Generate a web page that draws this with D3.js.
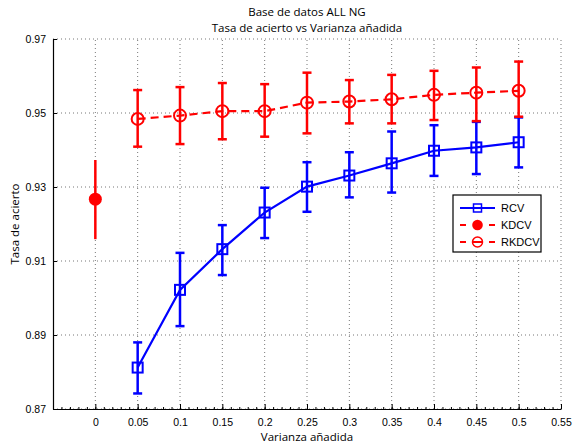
<!DOCTYPE html>
<meta charset="utf-8">
<script src="https://d3js.org/d3.v7.min.js"></script>
<style>
  body { margin: 0; background: #fff; }
  .tick text { font: 10.5px "Liberation Sans", Arial, sans-serif; fill: #000; }
  .ttl { font: 11.5px "Open Sans", "DejaVu Sans", sans-serif; fill: #000; }
  .grid line { stroke: #777; stroke-dasharray: 1,3; }
</style>
<body>
<div id="chart"></div>
<script>
// values
const xTicks = [0, 0.05, 0.1, 0.15, 0.2, 0.25, 0.3, 0.35, 0.4, 0.45, 0.5, 0.55];
const yTicks = [0.87, 0.89, 0.91, 0.93, 0.95, 0.97];

const varianza = [0.05, 0.1, 0.15, 0.2, 0.25, 0.3, 0.35, 0.4, 0.45, 0.5];

const rcv   = [0.8812, 0.9022, 0.9132, 0.9231, 0.9301, 0.9331, 0.9364, 0.9398, 0.9407, 0.9421];
const rcvLo = [0.8742, 0.8924, 0.9062, 0.9162, 0.9233, 0.9272, 0.9285, 0.9330, 0.9335, 0.9353];
const rcvHi = [0.8880, 0.9122, 0.9197, 0.9298, 0.9367, 0.9394, 0.9450, 0.9467, 0.9476, 0.9488];

const rkdcv   = [0.9484, 0.9493, 0.9505, 0.9505, 0.9528, 0.9531, 0.9537, 0.9549, 0.9555, 0.9560];
const rkdcvLo = [0.9409, 0.9416, 0.9429, 0.9436, 0.9445, 0.9472, 0.9472, 0.9481, 0.9478, 0.9490];
const rkdcvHi = [0.9562, 0.9570, 0.9581, 0.9578, 0.9609, 0.9589, 0.9603, 0.9614, 0.9623, 0.9639];

const kdcvX  = [0];
const kdcv   = [0.9267];
const kdcvLo = [0.9159];
const kdcvHi = [0.9373];

const width = 573, height = 446;
const svg = d3.select("#chart").append("svg")
  .attr("width", width).attr("height", height);

const x = d3.scaleLinear().domain([-0.05, 0.55]).range([53, 561]);
const y = d3.scaleLinear().domain([0.87, 0.97]).range([409, 39]);

// grid
const grid = svg.append("g").attr("class", "grid");
grid.selectAll("line.v").data(xTicks).enter().append("line")
  .attr("x1", d => x(d)).attr("x2", d => x(d))
  .attr("y1", y(0.87)).attr("y2", y(0.97));
grid.selectAll("line.h").data(yTicks).enter().append("line")
  .attr("x1", x(-0.05)).attr("x2", x(0.55))
  .attr("y1", d => y(d)).attr("y2", d => y(d));

// axes (ticks inside, like matlab)
svg.append("g").attr("transform", `translate(0,${y(0.87)})`)
  .call(d3.axisBottom(x).tickValues(xTicks).tickSize(-5).tickPadding(10)
    .tickFormat(d3.format("~g")).tickSizeOuter(0));
svg.append("g").attr("transform", `translate(0,${y(0.87)})`)
  .call(d3.axisBottom(x).tickValues(d3.range(-0.05, 0.551, 0.01)).tickSize(-2)
    .tickFormat("").tickSizeOuter(0))
  .select(".domain").remove();
svg.append("g").attr("transform", `translate(${x(-0.05)},0)`)
  .call(d3.axisLeft(y).tickValues(yTicks).tickSize(-4).tickPadding(7)
    .tickFormat(d3.format(".2f")).tickSizeOuter(0));
svg.selectAll(".domain").attr("stroke", "#000").attr("stroke-width", 1.2);
svg.selectAll(".tick line").attr("stroke", "#000");

// error bars
function errorBars(xs, ys, lo, hi, color, cap) {
  const g = svg.append("g").attr("stroke", color).attr("stroke-width", 2.5).attr("fill", "none");
  xs.forEach((xv, i) => {
    g.append("line").attr("x1", x(xv)).attr("x2", x(xv))
      .attr("y1", y(lo[i])).attr("y2", y(hi[i]));
    if (cap > 0) {
      g.append("line").attr("x1", x(xv) - cap).attr("x2", x(xv) + cap)
        .attr("y1", y(lo[i])).attr("y2", y(lo[i]));
      g.append("line").attr("x1", x(xv) - cap).attr("x2", x(xv) + cap)
        .attr("y1", y(hi[i])).attr("y2", y(hi[i]));
    }
  });
}

const line = d3.line().x(d => x(d[0])).y(d => y(d[1]));

// RCV
errorBars(varianza, rcv, rcvLo, rcvHi, "#0000ff", 4.5);
svg.append("path").datum(varianza.map((v, i) => [v, rcv[i]]))
  .attr("d", line).attr("fill", "none").attr("stroke", "#0000ff").attr("stroke-width", 2.2);
svg.append("g").selectAll("rect").data(varianza).enter().append("rect")
  .attr("x", (d) => x(d) - 5).attr("y", (d, i) => y(rcv[i]) - 5)
  .attr("width", 10).attr("height", 10)
  .attr("fill", "none").attr("stroke", "#0000ff").attr("stroke-width", 2);

// RKDCV
errorBars(varianza, rkdcv, rkdcvLo, rkdcvHi, "#ff0000", 4.5);
svg.append("path").datum(varianza.map((v, i) => [v, rkdcv[i]]))
  .attr("d", line).attr("fill", "none").attr("stroke", "#ff0000")
  .attr("stroke-width", 2.2).attr("stroke-dasharray", "8,5");
svg.append("g").selectAll("circle").data(varianza).enter().append("circle")
  .attr("cx", d => x(d)).attr("cy", (d, i) => y(rkdcv[i])).attr("r", 6)
  .attr("fill", "none").attr("stroke", "#ff0000").attr("stroke-width", 2);

// KDCV
errorBars(kdcvX, kdcv, kdcvLo, kdcvHi, "#ff0000", 0);
svg.append("g").selectAll("circle").data(kdcvX).enter().append("circle")
  .attr("cx", d => x(d)).attr("cy", (d, i) => y(kdcv[i])).attr("r", 6.5)
  .attr("fill", "#ff0000");

// titles
svg.append("text").attr("class", "ttl").attr("x", 307).attr("y", 16)
  .attr("text-anchor", "middle").text("Base de datos ALL NG");
svg.append("text").attr("class", "ttl").attr("x", 307).attr("y", 32)
  .attr("text-anchor", "middle").text("Tasa de acierto vs Varianza añadida");
svg.append("text").attr("class", "ttl").attr("x", 307).attr("y", 441)
  .attr("text-anchor", "middle").text("Varianza añadida");
svg.append("text").attr("class", "ttl")
  .attr("transform", "translate(19,224) rotate(-90)")
  .attr("text-anchor", "middle").text("Tasa de acierto");

// legend
const leg = svg.append("g").attr("transform", "translate(453,195)");
leg.append("rect").attr("width", 88).attr("height", 57)
  .attr("fill", "#fff").attr("stroke", "#000").attr("stroke-width", 1.2);
const items = [
  { name: "RCV", color: "#0000ff", dash: null, marker: "square" },
  { name: "KDCV", color: "#ff0000", dash: "6,23,6", marker: "dot" },
  { name: "RKDCV", color: "#ff0000", dash: "6,6,11,6,6", marker: "circle" }
];
items.forEach((it, i) => {
  const cy = 13 + i * 17;
  leg.append("line").attr("x1", 7).attr("x2", 42).attr("y1", cy).attr("y2", cy)
    .attr("stroke", it.color).attr("stroke-width", 2.2)
    .attr("stroke-dasharray", it.dash);
  if (it.marker === "square") {
    leg.append("rect").attr("x", 20.5).attr("y", cy - 4).attr("width", 8).attr("height", 8)
      .attr("fill", "none").attr("stroke", it.color).attr("stroke-width", 1.5);
  } else if (it.marker === "dot") {
    leg.append("circle").attr("cx", 24.5).attr("cy", cy).attr("r", 5.3).attr("fill", it.color);
  } else {
    leg.append("circle").attr("cx", 24.5).attr("cy", cy).attr("r", 5)
      .attr("fill", "none").attr("stroke", it.color).attr("stroke-width", 1.5);
  }
  leg.append("text").attr("x", 48).attr("y", cy + 4)
    .style("font", "11px 'Liberation Sans', Arial, sans-serif").text(it.name);
});
</script>
</body>
